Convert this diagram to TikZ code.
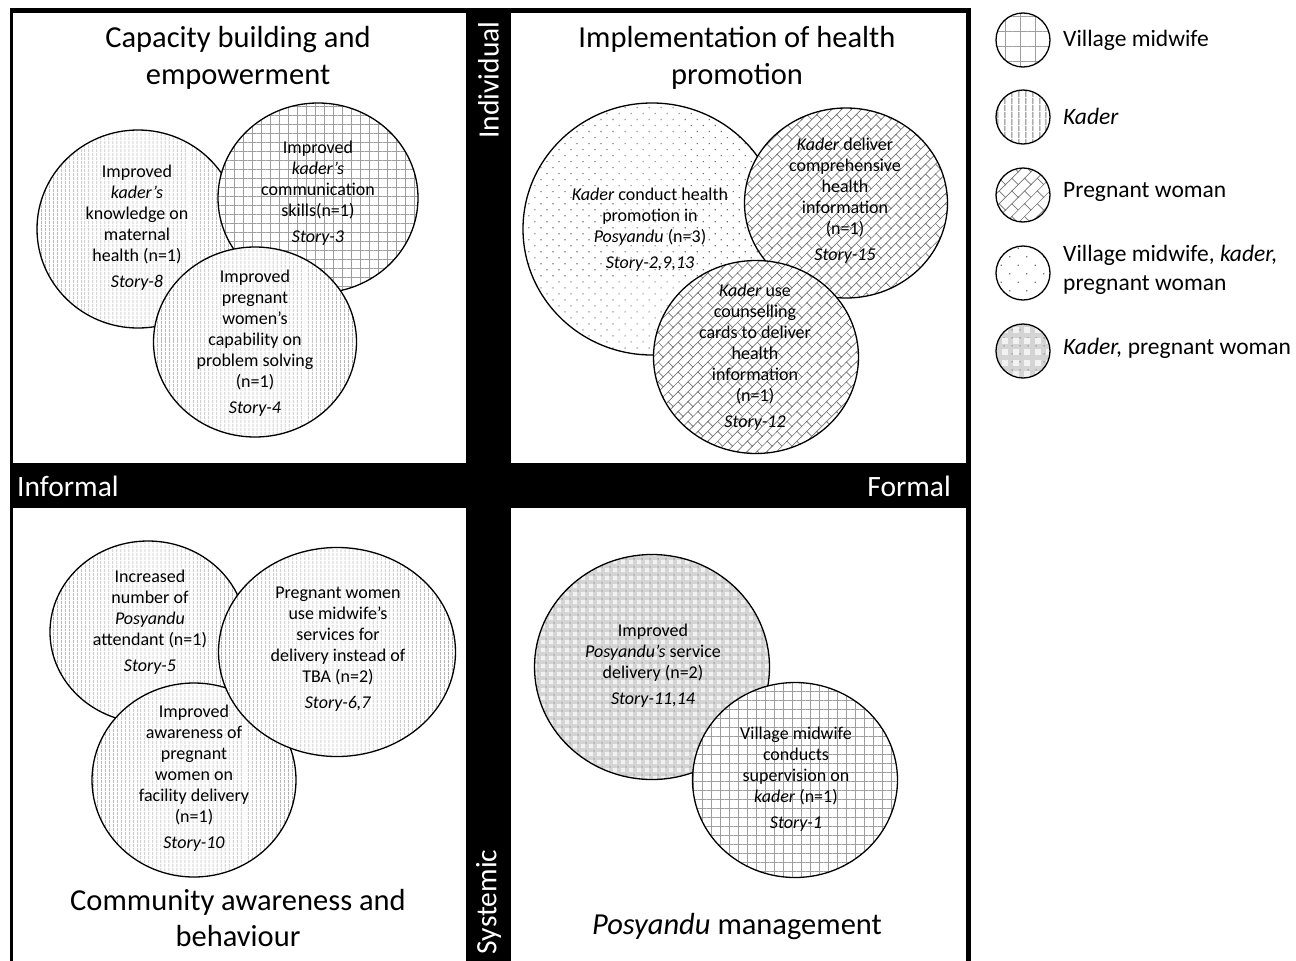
\documentclass[tikz,border=0pt]{standalone}
\usepackage{fontspec}
\setmainfont{Carlito}
\usetikzlibrary{shapes.geometric,patterns.meta}

\newcommand\bsize{\pgfkeysvalueof{/pgf/pattern keys/brick}}
\newcommand\wcell{\pgfkeysvalueof{/pgf/pattern keys/cell}}

\tikzdeclarepattern{
	name=brickwall,
	parameters={\bsize},
	bounding box={(-1pt,-1pt) and (2*\bsize+1pt,2*\bsize+1pt)},
	tile size={(2*\bsize,2*\bsize)},
	tile transformation={rotate=45},
	defaults={brick/.initial=6pt},
	code={
		\draw[line width=0.65pt] (-1pt,0pt) -- (2*\bsize+1pt,0pt) (-1pt,\bsize) -- (2*\bsize+1pt,\bsize)
			(0pt,0pt) -- (0pt,\bsize) (\bsize,\bsize) -- (\bsize,2*\bsize);
	}
}

\tikzdeclarepattern{
	name=tiles,
	parameters={\wcell},
	bounding box={(0pt,0pt) and (\wcell,\wcell)},
	tile size={(\wcell,\wcell)},
	defaults={cell/.initial=7.5pt},
	code={
		\fill (0.12*\wcell,0.12*\wcell) rectangle (0.68*\wcell,0.68*\wcell);
	}
}

\tikzdeclarepattern{
	name=tilecorner,
	parameters={\wcell},
	bounding box={(0pt,0pt) and (\wcell,\wcell)},
	tile size={(\wcell,\wcell)},
	defaults={cell/.initial=7.5pt},
	code={
		\fill (0.76*\wcell,0.76*\wcell) rectangle (0.96*\wcell,0.96*\wcell);
	}
}

\begin{document}
\begin{tikzpicture}[x=1pt,y=-1pt]
	\tikzstyle{every node}=[inner sep=0pt, align=center]
	\tikzstyle{bubble}=[ellipse, draw, line width=1.3pt, preaction={fill=white}]
	\tikzstyle{midwife}=[bubble, pattern={Hatch[distance=9pt,line width=0.6pt]}, pattern color=black!38]
	\tikzstyle{kader}=[bubble, pattern={Lines[angle=90,distance=4pt,line width=0.6pt]}, pattern color=black!50]
	\tikzstyle{woman}=[bubble, pattern={brickwall[brick=7pt]}, pattern color=black!55]
	\tikzstyle{allthree}=[bubble, pattern={Dots[angle=45,distance=8.5pt,radius=0.8pt]}, pattern color=black!55]
	\tikzstyle{kaderwoman}=[bubble, preaction={fill=black!17}, preaction={pattern={tilecorner[cell=7.5pt]}, pattern color=black!32},
		pattern={tiles[cell=7.5pt]}, pattern color=black!5]
	\tikzstyle{txt}=[font=\fontsize{18}{21}\selectfont]
	\tikzstyle{title}=[font=\fontsize{30.5}{36.5}\selectfont]
	\tikzstyle{axis}=[text=white, font=\fontsize{29.5}{34}\selectfont]
	\tikzstyle{legtxt}=[anchor=west, align=left, font=\fontsize{23.5}{29}\selectfont]
	\tikzstyle{leg}=[minimum width=54, minimum height=54]

	\useasboundingbox (0,0) rectangle (1296,961);
	\fill (10,8) rectangle (971,961);
	\fill[white] (13,13) rectangle (466,463);
	\fill[white] (511,13) rectangle (966,463);
	\fill[white] (13,508) rectangle (466,961);
	\fill[white] (511,508) rectangle (966,961);

	\node[axis, rotate=90] (indiv) at (488.5,80) {Individual};
	\node[axis, rotate=90] (syst) at (488.5,902) {Systemic};
	\node[axis, anchor=west] (inform) at (17,486) {Informal};
	\node[axis, anchor=east] (form) at (951,486) {Formal};

	\node[title] (capac) at (238,58) {Capacity building and\\empowerment};
	\node[title] (implem) at (737,58) {Implementation of health\\promotion};
	\node[title] (commun) at (238,918) {Community awareness and\\behaviour};
	\node[title] (manag) at (737,927) {\textit{Posyandu} management};

	\node[kader, minimum width=202, minimum height=198] (know) at (138,229) {};
	\node[midwife, minimum width=200, minimum height=190] (comm) at (318,198) {};
	\node[kader, minimum width=203, minimum height=190] (solve) at (255,342) {};
	\node[txt] (know-t) at (137,228) {Improved\\\textit{kader's}\\knowledge on\\maternal\\health (n=1)\\[5pt]\textit{Story-8}};
	\node[txt] (comm-t) at (318,193) {Improved\\\textit{kader's}\\communication\\skills(n=1)\\[5pt]\textit{Story-3}};
	\node[txt] (solve-t) at (255,343) {Improved\\pregnant\\women's\\capability on\\problem solving\\(n=1)\\[5pt]\textit{Story-4}};

	\node[allthree, minimum width=258, minimum height=252] (promo) at (652,229) {};
	\node[woman, minimum width=203, minimum height=190] (compr) at (846,203) {};
	\node[woman, minimum width=205, minimum height=193] (cards) at (756,357) {};
	\node[txt] (promo-t) at (650,230) {\textit{Kader} conduct health\\promotion in\\\textit{Posyandu} (n=3)\\[5pt]\textit{Story-2,9,13}};
	\node[txt] (compr-t) at (845,201) {\textit{Kader} deliver\\comprehensive\\health\\information\\(n=1)\\[5pt]\textit{Story-15}};
	\node[txt] (cards-t) at (755,357) {\textit{Kader} use\\counselling\\cards to deliver\\health\\information\\(n=1)\\[5pt]\textit{Story-12}};

	\node[kader, minimum width=196, minimum height=182] (attend) at (148,632) {};
	\node[kader, minimum width=204, minimum height=194] (aware) at (194,780) {};
	\node[kader, minimum width=237, minimum height=209] (deliv) at (337,652) {};
	\node[txt] (attend-t) at (150,622) {Increased\\number of\\\textit{Posyandu}\\attendant (n=1)\\[5pt]\textit{Story-5}};
	\node[txt] (aware-t) at (194,778) {Improved\\awareness of\\pregnant\\women on\\facility delivery\\(n=1)\\[5pt]\textit{Story-10}};
	\node[txt] (deliv-t) at (338,649) {Pregnant women\\use midwife's\\services for\\delivery instead of\\TBA (n=2)\\[5pt]\textit{Story-6,7}};

	\node[kaderwoman, minimum width=235, minimum height=225] (servic) at (652,667) {};
	\node[midwife, minimum width=205, minimum height=195] (superv) at (795,780) {};
	\node[txt] (servic-t) at (653,666) {Improved\\\textit{Posyandu's} service\\delivery (n=2)\\[5pt]\textit{Story-11,14}};
	\node[txt] (superv-t) at (796,779) {Village midwife\\conducts\\supervision on\\\textit{kader} (n=1)\\[5pt]\textit{Story-1}};

	\node[midwife, leg, pattern={Hatch[distance=15pt,line width=0.9pt]}] (lg1) at (1023,40) {};
	\node[kader, leg, pattern={Lines[angle=90,distance=6.5pt,line width=1pt]}] (lg2) at (1023,117) {};
	\node[woman, leg, pattern={brickwall[brick=9pt]}] (lg3) at (1023,195) {};
	\node[allthree, leg, pattern={Dots[angle=45,distance=12pt,radius=0.9pt]}] (lg4) at (1023,273) {};
	\node[kaderwoman, leg, pattern={tiles[cell=11pt]}] (lg5) at (1023,351) {};
	\node[legtxt] (lt1) at (1063,40) {Village midwife};
	\node[legtxt] (lt2) at (1063,116) {\textit{Kader}};
	\node[legtxt] (lt3) at (1063,192) {Pregnant woman};
	\node[legtxt] (lt4) at (1063,270) {Village midwife, \textit{kader,}\\pregnant woman};
	\node[legtxt] (lt5) at (1063,348) {\textit{Kader,} pregnant woman};
\end{tikzpicture}
\end{document}
